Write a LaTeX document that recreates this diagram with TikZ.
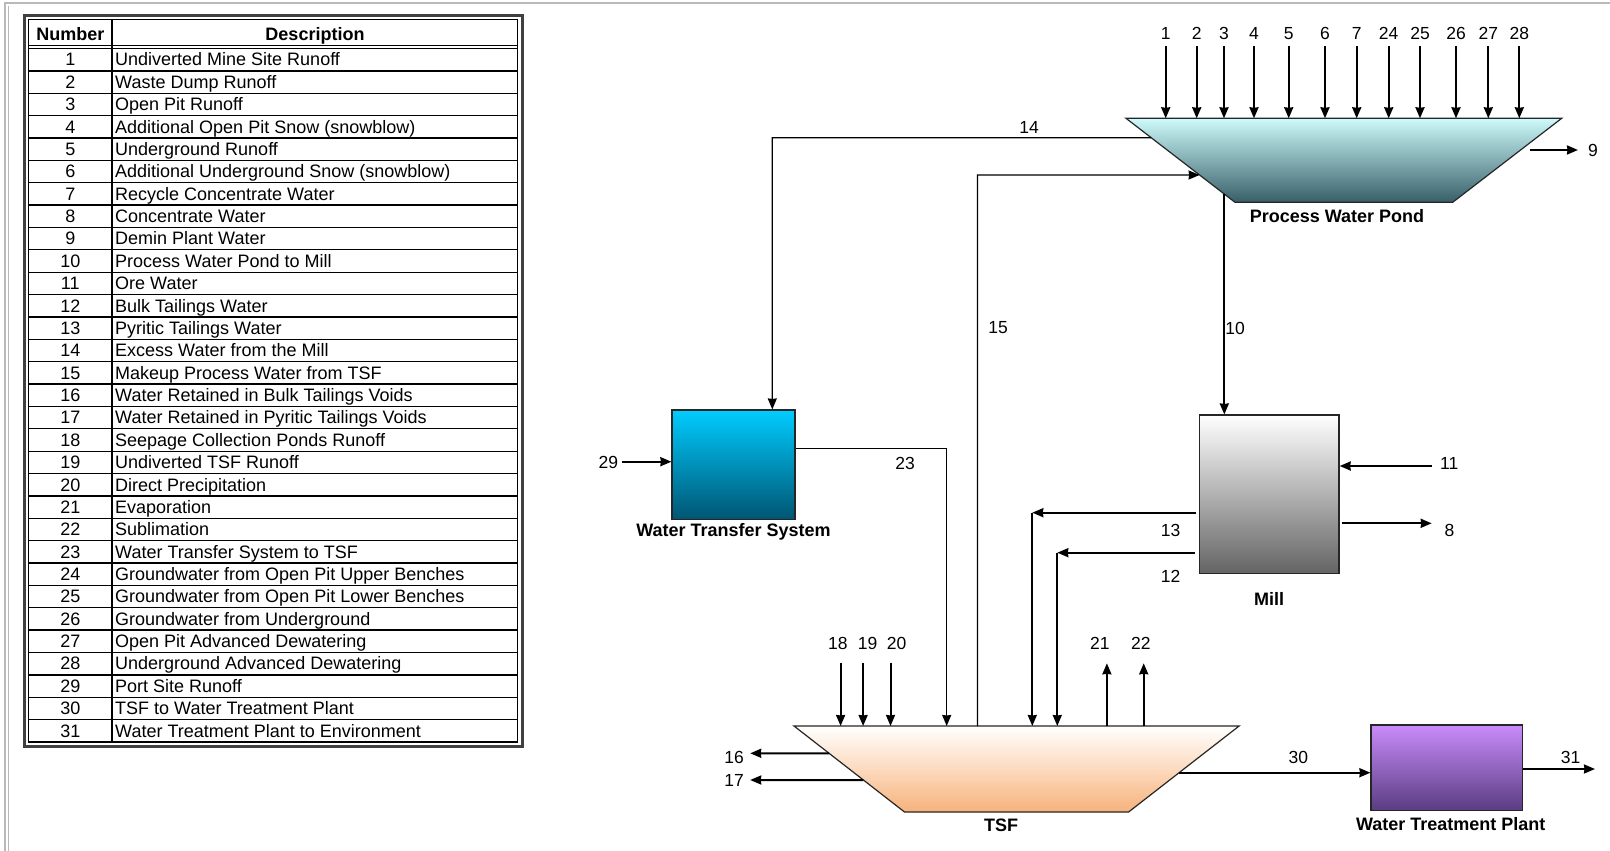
\documentclass[tikz,border=0pt]{standalone}
\usepackage{fontspec}
\setmainfont{Liberation Sans}
\usepackage{tikz}
\usetikzlibrary{arrows.meta, positioning, calc}
\definecolor{pondtop}{RGB}{205,250,250}
\definecolor{pondbot}{RGB}{55,95,105}
\definecolor{wtstop}{RGB}{0,204,255}
\definecolor{wtsbot}{RGB}{0,85,115}
\definecolor{millbot}{RGB}{100,100,100}
\definecolor{tsfmid}{RGB}{252,218,190}
\definecolor{tsfbot}{RGB}{246,178,124}
\definecolor{wtptop}{RGB}{200,140,250}
\definecolor{wtpbot}{RGB}{90,60,130}
\tikzset{
	>={Stealth[length=11pt,width=9pt,inset=0.5pt]},
	flow/.style={->, line width=2pt},
	pipe/.style={->, line width=1.3pt},
	lbl/.style={font=\fontsize{17.5}{19}\selectfont, inner sep=0pt},
	unit/.style={font=\bfseries\fontsize{18}{20}\selectfont, inner sep=0pt},
	box/.style={draw=black!85, line width=1.2pt, inner sep=0pt},
	cell/.style={font=\fontsize{18}{20}\selectfont, inner sep=0pt, anchor=base},
	grid/.style={line width=1.3pt},
}

\begin{document}
\begin{tikzpicture}[x=1pt, y=-1pt]
		\useasboundingbox (0,0) rectangle (1610,851);
		% page frame
		\draw[gray!55, line width=2pt] (1610,3.5) -- (5,3.5) -- (5,851);
		\draw[gray!55, line width=1.2pt] (8.5,6) -- (8.5,851);
		%
		% legend table
		\draw[line width=3pt, black!75] (24.5,15.5) rectangle (522,746);
		\draw[grid] (28.5,19.5) rectangle (517.5,742);
		\draw[grid] (28.5,45.5) -- (517.5,45.5);
		\draw[grid] (28.5,48.5) -- (517.5,48.5);
		\draw[grid] (112,19.5) -- (112,742);
		\foreach \i in {1,...,30}
			\draw[grid] (28.5,{48.5+22.37*\i}) -- (517.5,{48.5+22.37*\i});
		\node[cell, font=\bfseries\fontsize{18}{20}\selectfont] (hnum) at (70.3,40.5) {Number};
		\node[cell, font=\bfseries\fontsize{18}{20}\selectfont] (hdesc) at (315,40.5) {Description};
		\foreach \d [count=\i] in {Undiverted Mine Site Runoff, Waste Dump Runoff, Open Pit Runoff,
			Additional Open Pit Snow (snowblow), Underground Runoff, Additional Underground Snow (snowblow),
			Recycle Concentrate Water, Concentrate Water, Demin Plant Water, Process Water Pond to Mill,
			Ore Water, Bulk Tailings Water, Pyritic Tailings Water, Excess Water from the Mill,
			Makeup Process Water from TSF, Water Retained in Bulk Tailings Voids,
			Water Retained in Pyritic Tailings Voids, Seepage Collection Ponds Runoff,
			Undiverted TSF Runoff, Direct Precipitation, Evaporation, Sublimation,
			Water Transfer System to TSF, Groundwater from Open Pit Upper Benches,
			Groundwater from Open Pit Lower Benches, Groundwater from Underground,
			Open Pit Advanced Dewatering, Underground Advanced Dewatering, Port Site Runoff,
			TSF to Water Treatment Plant, Water Treatment Plant to Environment} {
			\node[cell] (num\i) at (70.3,{48.5+22.37*(\i-1)+17.5}) {\i};
			\node[cell, anchor=base west] (desc\i) at (115,{48.5+22.37*(\i-1)+17.5}) {\d};
		}
		%
		% process water pond
		\coordinate (pTL) at (1126,118.3);
		\coordinate (pTR) at (1561.7,118.3);
		\coordinate (pBR) at (1452.7,202.3);
		\coordinate (pBL) at (1235,202.3);
		\draw[box, top color=pondtop, bottom color=pondbot] (pTL) -- (pTR) -- (pBR) -- (pBL) -- cycle;
		\node[unit] (pondl) at (1337,216) {Process Water Pond};
		\foreach \n/\x in {1/1165.7, 2/1196.7, 3/1224, 4/1254, 5/1288.7, 6/1325,
			7/1356.7, 24/1388.7, 25/1420, 26/1456, 27/1488.3, 28/1519.3} {
			\node[lbl] (pin\n) at (\x,33.5) {\n};
			\coordinate (ps\n) at (\x,46);
			\draw[flow] (ps\n) -- (ps\n |- pTL);
		}
		\coordinate (s9) at (1530,150);
		\coordinate (k9) at (1578,150);
		\draw[flow] (s9) -- (k9);
		\node[lbl] (l9) at (1593,150) {9};
		%
		% water transfer system
		\node[box, minimum width=123, minimum height=109.3, top color=wtstop, bottom color=wtsbot] (wts) at (733.5,464.7) {};
		\node[unit, below=3.5pt of wts] (wtsl) {Water Transfer System};
		%
		% mill
		\node[box, minimum width=139.7, minimum height=158.3, top color=white, bottom color=millbot] (mill) at (1269.2,494.2) {};
		\node[unit, below=18pt of mill] (milll) {Mill};
		%
		% tsf
		\coordinate (tTL) at (794,726);
		\coordinate (tTR) at (1239.1,726);
		\coordinate (tBR) at (1128.6,812);
		\coordinate (tBL) at (904.5,812);
		\draw[box, top color=white, bottom color=tsfbot, middle color=tsfmid] (tTL) -- (tTR) -- (tBR) -- (tBL) -- cycle;
		\node[unit] (tsfl) at (1001,825) {TSF};
		%
		% water treatment plant
		\node[box, minimum width=151.3, minimum height=85.7, top color=wtptop, bottom color=wtpbot] (wtp) at (1446.7,767.9) {};
		\node[unit, below=6pt of wtp, xshift=4pt] (wtpl) {Water Treatment Plant};
		%
		% pond links
		\coordinate (e14) at ($(pTL)!0.231!(pBL)$);
		\coordinate (k14) at (772.3,137.7);
		\draw[pipe] (e14) -- (k14) -- (k14 |- wts.north);
		\node[lbl] (l14) at (1029,127) {14};
		\coordinate (e15) at ($(pTL)!0.675!(pBL)$);
		\coordinate (k15) at (977.5,175);
		\draw[pipe] (k15 |- tTL) -- (k15) -- (e15);
		\node[lbl] (l15) at (998,328) {15};
		\coordinate (e10) at ($(pTL)!0.902!(pBL)$);
		\draw[flow] (e10) -- (e10 |- mill.north);
		\node[lbl] (l10) at (1235,328) {10};
		%
		% wts links
		\coordinate (s29) at (621.7,461.7);
		\draw[flow] (s29) -- (s29 -| wts.west);
		\node[lbl] (l29) at (608.3,462) {29};
		\coordinate (k23) at (946.7,448.3);
		\draw[pipe] (k23 -| wts.east) -- (k23) -- (k23 |- tTL);
		\node[lbl] (l23) at (905,463) {23};
		%
		% mill links
		\coordinate (s11) at (1432.3,466);
		\draw[flow] (s11) -- (s11 -| mill.east);
		\node[lbl] (l11) at (1449.3,463) {11};
		\coordinate (k8) at (1431.7,523.3);
		\draw[flow, shorten <=2pt] (k8 -| mill.east) -- (k8);
		\node[lbl] (l8) at (1449.5,530) {8};
		\coordinate (k13) at (1032.3,512.7);
		\draw[flow, shorten <=2.5pt] (k13 -| mill.west) -- (k13);
		\draw[flow] (k13) -- (k13 |- tTL);
		\node[lbl] (l13) at (1170.7,530) {13};
		\coordinate (k12) at (1057.3,552.7);
		\draw[flow, shorten <=4pt] (k12 -| mill.west) -- (k12);
		\draw[flow] (k12) -- (k12 |- tTL);
		\node[lbl] (l12) at (1170.7,576) {12};
		%
		% tsf links
		\foreach \n/\x/\lx in {18/840.6/837.9, 19/863.1/867.6, 20/890.5/896.6} {
			\node[lbl] (tin\n) at (\lx,643.3) {\n};
			\coordinate (ts\n) at (\x,662.7);
			\draw[flow] (ts\n) -- (ts\n |- tTL);
		}
		\foreach \n/\x/\lx in {21/1106.9/1099.9, 22/1143.7/1140.9} {
			\node[lbl] (tout\n) at (\lx,643.3) {\n};
			\coordinate (tk\n) at (\x,663.3);
			\draw[flow] (tk\n |- tTL) -- (tk\n);
		}
		\coordinate (e16) at ($(tTL)!0.317!(tBL)$);
		\coordinate (k16) at (750.2,753.3);
		\draw[flow] (e16) -- (k16);
		\node[lbl] (l16) at (734,757.5) {16};
		\coordinate (e17) at ($(tTL)!0.628!(tBL)$);
		\coordinate (k17) at (750.2,780);
		\draw[flow] (e17) -- (k17);
		\node[lbl] (l17) at (734,780) {17};
		\coordinate (e30) at ($(tTR)!0.543!(tBR)$);
		\draw[flow] (e30) -- (e30 -| wtp.west);
		\node[lbl] (l30) at (1298.3,757.3) {30};
		\coordinate (k31) at (1595,769);
		\draw[flow] (k31 -| wtp.east) -- (k31);
		\node[lbl] (l31) at (1570.7,757.3) {31};
	\end{tikzpicture}
\end{document}
